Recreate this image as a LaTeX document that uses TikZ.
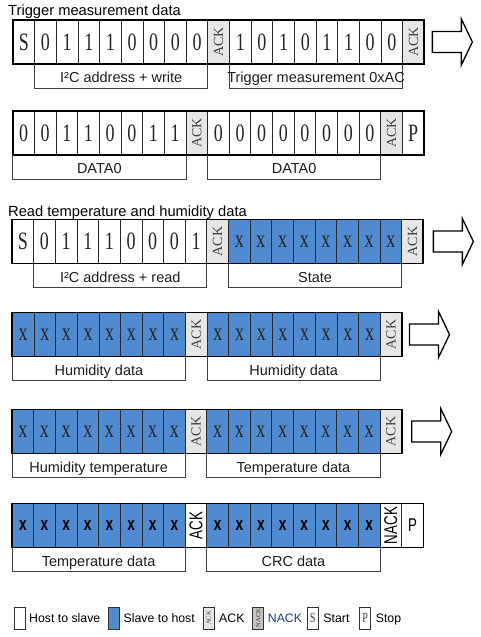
\documentclass[tikz,border=0pt]{standalone}
\usepackage{fontspec}
\setmainfont{Liberation Sans}
\newfontfamily\bitserif[FakeStretch=0.72]{Liberation Serif}
\newfontfamily\acktimes{Liberation Serif}
\newfontfamily\bitsans[FakeStretch=0.72]{Liberation Sans}
\usetikzlibrary{positioning}
\definecolor{slaveblue}{RGB}{80,138,208}
\definecolor{ackgrey}{RGB}{230,230,230}
\definecolor{nackgrey}{RGB}{196,196,196}
\definecolor{cellline}{RGB}{40,40,40}
\definecolor{tagink}{RGB}{28,28,28}
\definecolor{nackink}{RGB}{32,58,128}
\tikzset{
  bit_font/.style = {font=\bitserif\fontsize{25}{25}\selectfont, text=black!85},
  sf_font/.style = {font=\bitsans\fontsize{18.5}{18.5}\selectfont, text=black},
  head_font/.style = {font=\fontsize{14.7}{16}\selectfont},
  tag_font/.style = {font=\fontsize{14.5}{16}\selectfont},
  key_font/.style = {font=\fontsize{12.3}{14}\selectfont}
}
\tikzset{
  cell/.style = {draw=cellline, line width=0.8, minimum width=21.65, minimum height=44, inner sep=0, outer sep=0},
  host/.style = {cell, fill=white, bit_font},
  slave/.style = {cell, fill=slaveblue, bit_font},
  ack_label/.style = {rotate=90, inner sep=0, font=\acktimes\fontsize{14}{14}\selectfont, text=black!75},
  ack/.style = {cell, fill=ackgrey, label={[ack_label]center:ACK}},
  sf_label/.style = {rotate=90, inner sep=0, sf_font},
  host_sf/.style = {cell, fill=white, sf_font},
  slave_sf/.style = {cell, fill=slaveblue, font=\bitsans\bfseries\fontsize{19}{19}\selectfont},
  ack_sf/.style = {cell, fill=white, label={[sf_label]center:ACK}},
  nack_sf/.style = {cell, fill=white, label={[sf_label]center:NACK}},
  frame/.style = {draw=black, line width=1.8},
  frame_thin/.style = {draw=black, line width=1.1},
  heading/.style = {head_font, anchor=base west, inner sep=0},
  tag_line/.style = {draw=black!75, line width=0.8},
  tag/.style = {tag_font, text=tagink, anchor=base, yshift=5.5, inner sep=0},
  key_box/.style = {draw=black!80, line width=0.8, fill=white, minimum width=11, minimum height=22, inner sep=0, outer sep=0},
  key_text/.style = {key_font, inner sep=0, text height=8.8, text depth=0},
  next_arrow/.pic = {
    \draw[line width=1.3, fill=white] (0,-10.5) -- (29,-10.5) -- (29,-23) -- (40,0)
      -- (29,23) -- (29,10.5) -- (0,10.5) -- cycle;
  }
}
\newcommand{\bitrow}[3]{%
  \coordinate (#1_0) at (#2);
  \foreach \kind/\val [count=\i, remember=\i as \j (initially 0)] in {#3}{
    \node[\kind, right=of #1_\j] (#1_\i) {\val};
  }
}

\begin{document}
\begin{tikzpicture}[x=1pt, y=-1pt, node distance=0pt]
    \useasboundingbox (0,0) rectangle (480,637);

    % Trigger measurement
    \node[heading] (head_trigger) at (8,15) {Trigger measurement data};
    \bitrow{r1}{13,42}{host/S, host/0, host/1, host/1, host/1, host/0, host/0, host/0, host/0, ack/,
        host/1, host/0, host/1, host/0, host/1, host/1, host/0, host/0, ack/}
    \draw[frame] (r1_1.north west) rectangle (r1_19.south east);
    \draw[tag_line] (r1_2.south west) -- ++(0,24) -| (r1_9.south east)
        node[tag, pos=0.25] (tag_1a) {I²C address + write};
    \draw[tag_line] (r1_11.south west) -- ++(0,24) -| (r1_18.south east)
        node[tag, pos=0.25] (tag_1b) {Trigger measurement 0xAC};
    \pic (go_1) at ([xshift=8]r1_19.east) {next_arrow};

    \bitrow{r2}{12.7,133}{host/0, host/0, host/1, host/1, host/0, host/0, host/1, host/1, ack/,
        host/0, host/0, host/0, host/0, host/0, host/0, host/0, host/0, ack/, host/P}
    \draw[frame] (r2_1.north west) rectangle (r2_19.south east);
    \draw[tag_line] (r2_1.south west) -- ++(0,24) -| (r2_8.south east)
        node[tag, pos=0.25] (tag_2a) {DATA0};
    \draw[tag_line] (r2_10.south west) -- ++(0,24) -| (r2_17.south east)
        node[tag, pos=0.25] (tag_2b) {DATA0};

    % Read temperature and humidity
    \node[heading] (head_read) at (8,216) {Read temperature and humidity data};
    \bitrow{r3}{12,241.5}{host/S, host/0, host/1, host/1, host/1, host/0, host/0, host/0, host/1, ack/,
        slave/x, slave/x, slave/x, slave/x, slave/x, slave/x, slave/x, slave/x, ack/}
    \draw[frame] (r3_1.north west) rectangle (r3_19.south east);
    \draw[tag_line] (r3_2.south west) -- ++(0,24) -| (r3_9.south east)
        node[tag, pos=0.25] (tag_3a) {I²C address + read};
    \draw[tag_line] (r3_11.south west) -- ++(0,24) -| (r3_18.south east)
        node[tag, pos=0.25] (tag_3b) {State};
    \pic (go_3) at ([xshift=10]r3_19.east) {next_arrow};

    \bitrow{r4}{12.3,334.5}{slave/x, slave/x, slave/x, slave/x, slave/x, slave/x, slave/x, slave/x, ack/,
        slave/x, slave/x, slave/x, slave/x, slave/x, slave/x, slave/x, slave/x, ack/}
    \draw[frame] (r4_1.north west) rectangle (r4_18.south east);
    \draw[tag_line] (r4_1.south west) -- ++(0,24) -| (r4_8.south east)
        node[tag, pos=0.25] (tag_4a) {Humidity data};
    \draw[tag_line] (r4_10.south west) -- ++(0,24) -| (r4_17.south east)
        node[tag, pos=0.25] (tag_4b) {Humidity data};
    \pic (go_4) at ([xshift=7.5]r4_18.east) {next_arrow};

    \bitrow{r5}{12,431.5}{slave/x, slave/x, slave/x, slave/x, slave/x, slave/x, slave/x, slave/x, ack/,
        slave/x, slave/x, slave/x, slave/x, slave/x, slave/x, slave/x, slave/x, ack/}
    \draw[frame] (r5_1.north west) rectangle (r5_18.south east);
    \draw[tag_line] (r5_1.south west) -- ++(0,24) -| (r5_8.south east)
        node[tag, pos=0.25] (tag_5a) {Humidity temperature};
    \draw[tag_line] (r5_10.south west) -- ++(0,24) -| (r5_17.south east)
        node[tag, pos=0.25] (tag_5b) {Temperature data};
    \pic (go_5) at ([xshift=10]r5_18.east) {next_arrow};

    \bitrow{r6}{12,525.5}{slave_sf/x, slave_sf/x, slave_sf/x, slave_sf/x, slave_sf/x, slave_sf/x, slave_sf/x, slave_sf/x, ack_sf/,
        slave_sf/x, slave_sf/x, slave_sf/x, slave_sf/x, slave_sf/x, slave_sf/x, slave_sf/x, slave_sf/x, nack_sf/, host_sf/P}
    \draw[frame_thin] (r6_1.north west) rectangle (r6_19.south east);
    \draw[tag_line] (r6_1.south west) -- ++(0,24) -| (r6_8.south east)
        node[tag, pos=0.25] (tag_6a) {Temperature data};
    \draw[tag_line] (r6_10.south west) -- ++(0,24) -| (r6_17.south east)
        node[tag, pos=0.25] (tag_6b) {CRC data};

    % Legend
    \node[key_box] at (19.5,618) (key_host) {};
    \node[key_text, right=4pt of key_host] (key_host_txt) {Host to slave};
    \node[key_box, fill=slaveblue, right=8pt of key_host_txt] (key_slave) {};
    \node[key_text, right=4pt of key_slave] (key_slave_txt) {Slave to host};
    \node[key_box, fill=ackgrey, right=8pt of key_slave_txt,
        label={[ack_label, font=\acktimes\fontsize{6.5}{6.5}\selectfont]center:ACK}] (key_ack) {};
    \node[key_text, right=5pt of key_ack] (key_ack_txt) {ACK};
    \node[key_box, fill=nackgrey, right=8pt of key_ack_txt,
        label={[ack_label, font=\acktimes\fontsize{6.5}{6.5}\selectfont]center:NACK}] (key_nack) {};
    \node[key_text, text=nackink, right=4pt of key_nack] (key_nack_txt) {NACK};
    \node[key_box, right=5pt of key_nack_txt, font=\bitserif\fontsize{14}{14}\selectfont, text=black!75] (key_start) {S};
    \node[key_text, right=5pt of key_start] (key_start_txt) {Start};
    \node[key_box, right=10pt of key_start_txt, font=\bitserif\fontsize{14}{14}\selectfont, text=black!75] (key_stop) {P};
    \node[key_text, right=5pt of key_stop] (key_stop_txt) {Stop};
\end{tikzpicture}
\end{document}
